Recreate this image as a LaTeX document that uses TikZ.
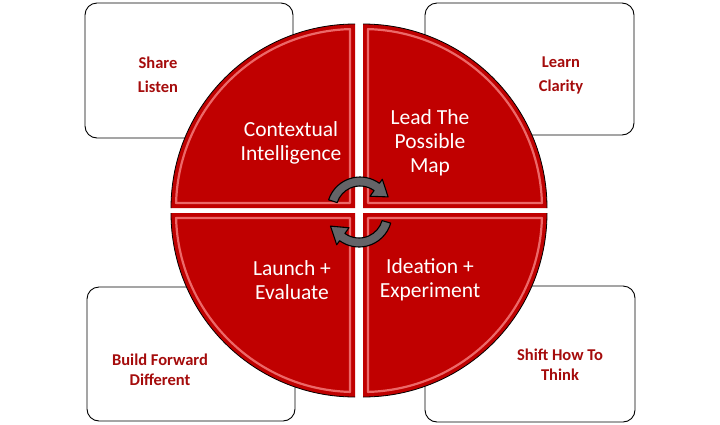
\documentclass[tikz,border=0pt]{standalone}
\usepackage{fontspec}
\setmainfont{Carlito}
\begin{document}
\begin{tikzpicture}[x=1pt,y=-1pt,
  box/.style={draw=black,line width=0.9pt,rounded corners=12pt,fill=white,inner sep=0pt},
  boxtext/.style={text=boxred,font=\fontsize{16.5}{20}\selectfont\bfseries,align=center},
  quad/.style={fill=quadred},
  bevel/.style={draw=bevelpink,line width=2.2pt,line join=round},
  rim/.style={draw=black,line width=0.8pt},
  qtext/.style={text=white,font=\fontsize{21.5}{24}\selectfont,align=center},
  cyc/.style={fill=arrowgray,draw=black,line width=1.1pt,line join=round}
]
\definecolor{quadred}{RGB}{192,0,0}
\definecolor{bevelpink}{RGB}{236,104,104}
\definecolor{boxred}{RGB}{165,12,12}
\definecolor{arrowgray}{RGB}{100,100,104}
\useasboundingbox (0,0) rectangle (720,424);
\fill[white] (0,0) rectangle (720,424);

% corner boxes
\node[box,minimum width=208pt,minimum height=135pt] (boxTL) at (189,70.5) {};
\node[box,minimum width=209pt,minimum height=132pt] (boxTR) at (529.5,69) {};
\node[box,minimum width=208pt,minimum height=134pt] (boxBL) at (191,354) {};
\node[box,minimum width=210pt,minimum height=136pt] (boxBR) at (530,354) {};

\def\R{184}
% top-left quadrant
\begin{scope}[shift={(355,208)},yscale=-1]
  \path[quad] (0,0) -- (-\R,0) arc[start angle=180,end angle=90,radius=\R] -- cycle;
  \path[bevel] (-5,5) -- (178.4:179) arc[start angle=178.4,end angle=91.6,radius=179] -- cycle;
  \draw[rim] (-\R,0) arc[start angle=180,end angle=90,radius=\R];
\end{scope}
% top-right quadrant
\begin{scope}[shift={(363,208)},yscale=-1]
  \path[quad] (0,0) -- (0,\R) arc[start angle=90,end angle=0,radius=\R] -- cycle;
  \path[bevel] (5,5) -- (88.4:179) arc[start angle=88.4,end angle=1.6,radius=179] -- cycle;
  \draw[rim] (0,\R) arc[start angle=90,end angle=0,radius=\R];
\end{scope}
% bottom-left quadrant
\begin{scope}[shift={(355,213)},yscale=-1]
  \path[quad] (0,0) -- (-\R,0) arc[start angle=180,end angle=270,radius=\R] -- cycle;
  \path[bevel] (-5,-5) -- (181.6:179) arc[start angle=181.6,end angle=268.4,radius=179] -- cycle;
  \draw[rim] (-\R,0) arc[start angle=180,end angle=270,radius=\R];
\end{scope}
% bottom-right quadrant
\begin{scope}[shift={(363,213)},yscale=-1]
  \path[quad] (0,0) -- (\R,0) arc[start angle=0,end angle=-90,radius=\R] -- cycle;
  \path[bevel] (5,-5) -- (-1.6:179) arc[start angle=-1.6,end angle=-88.4,radius=179] -- cycle;
  \draw[rim] (\R,0) arc[start angle=0,end angle=-90,radius=\R];
\end{scope}

% box texts
\node[boxtext,font=\fontsize{16.5}{24}\selectfont\bfseries] (tTL) at (158,75) {Share\\Listen};
\node[boxtext,font=\fontsize{16.5}{24}\selectfont\bfseries] (tTR) at (561,75) {Learn\\Clarity};
\node[boxtext] (tBL) at (160,370) {Build Forward\\Different};
\node[boxtext] (tBR) at (560,365) {Shift How To\\Think};

% quadrant texts
\node[qtext] (qTL) at (291,142.5) {Contextual\\Intelligence};
\node[qtext] (qTR) at (430,143) {Lead The\\Possible\\Map};
\node[qtext] (qBL) at (292,280) {Launch +\\Evaluate};
\node[qtext] (qBR) at (430,280) {Ideation +\\Experiment};

% cycle arrows
\begin{scope}[shift={(360,210)},yscale=-1]
  \path[cyc] (162:33) arc[start angle=162,end angle=54,radius=33]
     -- (54:38) -- (25:31) -- (54:17) -- (54:24)
     arc[start angle=54,end angle=162,radius=24] -- cycle;
\end{scope}
\begin{scope}[shift={(359,214)},yscale=-1]
  \path[cyc] (-16:33) arc[start angle=-16,end angle=-126,radius=33]
     -- (-126:38) -- (-157:31) -- (-126:17) -- (-126:24)
     arc[start angle=-126,end angle=-16,radius=24] -- cycle;
\end{scope}
\end{tikzpicture}
\end{document}
